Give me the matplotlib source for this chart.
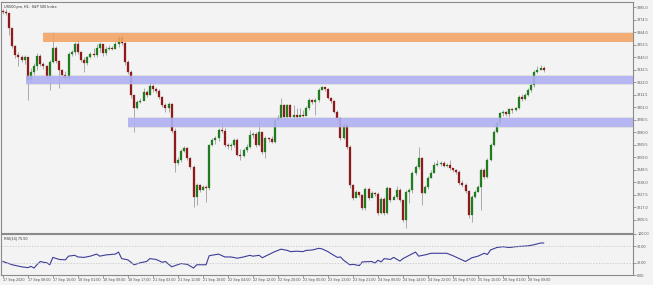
import matplotlib
matplotlib.use('Agg')
import matplotlib.pyplot as plt
from matplotlib.patches import Rectangle

plt.rcParams['font.family'] = ['Liberation Sans', 'DejaVu Sans']

# US500 H1
first_open = 3381.7
close = [3380.8, 3380.0, 3367.4, 3352.3, 3344.8, 3343.1, 3340.6, 3343.1, 3323.8, 3330.5,
         3335.6, 3343.9, 3337.2, 3335.6, 3327.2, 3338.9, 3350.6, 3339.8, 3332.2, 3328.0,
         3325.5, 3345.6, 3347.3, 3354.0, 3347.3, 3340.6, 3338.1, 3343.1, 3345.6, 3344.8,
         3350.6, 3354.0, 3346.5, 3349.8, 3350.6, 3349.8, 3354.0, 3359.9, 3354.8, 3338.9,
         3330.5, 3311.3, 3300.4, 3305.4, 3306.2, 3313.8, 3311.3, 3318.8, 3316.3, 3314.6,
         3309.6, 3302.9, 3300.4, 3303.7, 3281.1, 3254.3, 3256.8, 3264.3, 3266.8, 3258.5,
         3250.9, 3225.8, 3235.8, 3231.7, 3234.2, 3233.3, 3269.4, 3273.6, 3275.2, 3281.9,
         3281.1, 3269.4, 3268.5, 3269.4, 3273.6, 3261.0, 3260.1, 3265.2, 3267.7, 3277.7,
         3278.6, 3269.4, 3280.3, 3263.5, 3275.2, 3274.4, 3271.9, 3290.3, 3292.0, 3302.9,
         3292.8, 3302.9, 3292.8, 3294.5, 3292.8, 3294.5, 3293.7, 3300.4, 3307.1, 3305.4,
         3307.1, 3315.5, 3318.0, 3316.3, 3308.7, 3306.2, 3297.0, 3292.0, 3275.2, 3286.1,
         3267.7, 3235.8, 3224.9, 3230.0, 3227.5, 3216.6, 3232.5, 3224.9, 3229.1, 3228.3,
         3212.4, 3224.1, 3212.4, 3233.3, 3223.3, 3225.8, 3231.7, 3223.3, 3206.5, 3230.0,
         3231.7, 3245.9, 3250.9, 3258.5, 3229.1, 3234.2, 3241.7, 3245.9, 3252.6, 3253.4,
         3254.3, 3251.8, 3252.6, 3250.1, 3248.4, 3246.7, 3237.5, 3235.8, 3230.8, 3210.7,
         3225.8, 3230.0, 3234.2, 3248.4, 3242.5, 3256.8, 3269.4, 3280.3, 3287.8, 3296.2,
         3297.0, 3295.3, 3299.5, 3298.7, 3300.4, 3309.6, 3307.9, 3311.3, 3315.5, 3319.6,
         3330.5, 3332.2, 3333.9, 3332.2]
high = [3383.3, 3383.3, 3380.0, 3367.4, 3353.2, 3347.3, 3344.8, 3344.8, 3343.1, 3333.9,
        3338.1, 3346.5, 3345.6, 3338.9, 3336.4, 3340.6, 3364.1, 3352.3, 3340.6, 3333.1,
        3331.4, 3347.3, 3349.0, 3355.7, 3357.4, 3348.1, 3343.1, 3343.9, 3347.3, 3350.6,
        3354.0, 3355.7, 3354.0, 3352.3, 3353.2, 3352.3, 3356.5, 3361.5, 3363.2, 3355.7,
        3340.6, 3332.2, 3311.3, 3307.1, 3308.7, 3317.1, 3315.5, 3321.3, 3320.5, 3318.0,
        3316.3, 3310.4, 3304.6, 3305.4, 3304.6, 3283.6, 3259.3, 3266.0, 3268.5, 3267.7,
        3259.3, 3252.6, 3237.5, 3236.7, 3235.8, 3235.8, 3270.2, 3275.2, 3276.9, 3283.6,
        3288.6, 3283.6, 3271.0, 3271.0, 3275.2, 3275.2, 3266.0, 3266.8, 3270.2, 3281.9,
        3280.3, 3280.3, 3290.3, 3277.7, 3276.9, 3276.1, 3276.9, 3292.0, 3294.5, 3308.7,
        3303.7, 3303.7, 3303.7, 3302.9, 3300.4, 3300.4, 3298.7, 3302.0, 3308.7, 3307.9,
        3308.7, 3317.1, 3318.8, 3318.0, 3317.1, 3309.6, 3307.1, 3298.7, 3292.8, 3287.8,
        3287.8, 3269.4, 3236.7, 3231.7, 3229.1, 3228.3, 3234.2, 3234.2, 3230.8, 3230.0,
        3230.0, 3225.8, 3225.8, 3235.0, 3233.3, 3227.5, 3235.0, 3233.3, 3223.3, 3231.7,
        3233.3, 3247.6, 3252.6, 3267.7, 3259.3, 3235.8, 3243.4, 3248.4, 3255.1, 3256.8,
        3256.0, 3256.0, 3254.3, 3256.8, 3250.1, 3249.3, 3248.4, 3240.0, 3237.5, 3231.7,
        3227.5, 3231.7, 3235.8, 3250.1, 3250.1, 3258.5, 3271.0, 3281.9, 3289.5, 3297.0,
        3298.7, 3297.9, 3300.4, 3300.4, 3301.2, 3311.3, 3312.1, 3312.9, 3317.1, 3321.3,
        3332.2, 3335.6, 3336.4, 3335.6]
low = [3379.1, 3378.3, 3361.5, 3350.6, 3342.3, 3335.6, 3338.9, 3337.2, 3307.1, 3322.2,
       3328.0, 3332.2, 3335.6, 3333.1, 3325.5, 3315.5, 3338.1, 3338.1, 3317.1, 3326.3,
       3323.8, 3323.8, 3343.9, 3344.8, 3345.6, 3338.9, 3330.5, 3336.4, 3342.3, 3343.1,
       3343.1, 3347.3, 3343.9, 3344.8, 3349.0, 3349.0, 3349.8, 3351.5, 3353.2, 3336.4,
       3328.9, 3308.7, 3280.3, 3299.5, 3304.6, 3307.1, 3309.6, 3311.3, 3313.8, 3312.9,
       3307.9, 3301.2, 3297.0, 3297.0, 3279.4, 3246.7, 3252.6, 3255.1, 3263.5, 3256.8,
       3249.3, 3217.4, 3219.1, 3230.0, 3231.7, 3221.6, 3231.7, 3268.5, 3270.2, 3272.7,
       3279.4, 3267.7, 3266.0, 3265.2, 3267.7, 3260.1, 3256.8, 3259.3, 3263.5, 3266.8,
       3275.2, 3267.7, 3268.5, 3261.8, 3258.5, 3271.9, 3271.0, 3271.0, 3289.5, 3291.2,
       3291.2, 3292.0, 3292.0, 3292.0, 3291.2, 3292.8, 3292.8, 3294.5, 3298.7, 3303.7,
       3294.5, 3305.4, 3315.5, 3314.6, 3307.9, 3304.6, 3296.2, 3290.3, 3273.6, 3274.4,
       3266.0, 3233.3, 3223.3, 3226.6, 3225.8, 3214.9, 3214.9, 3223.3, 3225.8, 3226.6,
       3210.7, 3211.5, 3210.7, 3211.5, 3221.6, 3224.1, 3224.1, 3221.6, 3204.8, 3199.8,
       3220.8, 3229.1, 3244.2, 3249.3, 3219.1, 3228.3, 3232.5, 3241.7, 3245.9, 3251.8,
       3251.8, 3250.9, 3250.9, 3248.4, 3246.7, 3245.1, 3235.8, 3234.2, 3229.1, 3208.2,
       3204.8, 3224.9, 3230.0, 3214.9, 3240.9, 3241.7, 3256.0, 3268.5, 3279.4, 3287.0,
       3293.7, 3293.7, 3292.8, 3296.2, 3297.9, 3299.5, 3306.2, 3307.1, 3310.4, 3313.8,
       3318.0, 3329.7, 3332.2, 3330.5]
opens = [first_open] + close[:-1]

# zones (debut en index de bougie, bas, haut)
zone_start = [12.8, 7.4, 40.0]
zone_low = [3356.0, 3320.5, 3284.5]
zone_high = [3363.5, 3327.0, 3292.0]
zone_colors = ['#F7A561', '#AFAFF7', '#AFAFF7']

# RSI(14)
rsi_idx = [0, 3, 6, 8, 9, 10, 11, 12, 13, 14, 15, 16, 18, 20, 21, 23, 24, 26, 28, 30,
           31, 33, 36, 37, 38, 40, 42, 44, 46, 47, 49, 51, 52, 54, 57, 59, 61, 62, 65, 66,
           69, 71, 73, 75, 77, 79, 80, 82, 83, 84, 87, 89, 91, 92, 94, 96, 97, 99, 101, 102,
           104, 105, 107, 108, 109, 111, 112, 114, 115, 118, 119, 120, 121, 122, 124, 125, 127, 128, 130, 132,
           133, 135, 137, 139, 142, 144, 146, 148, 150, 152, 154, 155, 156, 158, 160, 162, 164, 168, 170, 172, 173]
rsi_val = [33, 25, 20, 18, 21, 17, 26, 33, 31, 30, 25, 43, 38, 37, 46, 48, 44, 43, 46, 51,
           46, 49, 51, 56, 40, 37, 25, 30, 33, 40, 38, 31, 33, 20, 28, 26, 17, 25, 25, 47,
           51, 44, 44, 41, 44, 48, 46, 48, 42, 46, 57, 63, 60, 57, 58, 57, 60, 61, 65, 64,
           57, 52, 43, 44, 36, 25, 26, 23, 32, 33, 29, 36, 32, 40, 38, 43, 34, 40, 48, 56,
           46, 49, 53, 53, 53, 47, 40, 33, 42, 46, 53, 50, 61, 67, 69, 67, 69, 71, 74, 78, 78]
rsi_levels = [30, 70]

x_labels = ['17 Sep 2020', '17 Sep 08:00', '17 Sep 16:00', '18 Sep 01:00', '18 Sep 09:00',
            '18 Sep 17:00', '21 Sep 03:00', '21 Sep 11:00', '21 Sep 19:00', '22 Sep 04:00',
            '22 Sep 12:00', '22 Sep 20:00', '23 Sep 05:00', '23 Sep 13:00', '23 Sep 21:00',
            '24 Sep 06:00', '24 Sep 14:00', '24 Sep 22:00', '25 Sep 07:00', '25 Sep 15:00',
            '28 Sep 01:00', '28 Sep 09:00']
y_ticks = [3206.5 + 10.5 * k for k in range(18)]

bg = '#F3F3F3'
txt = '#555555'
fs = 2.7

fig = plt.figure(figsize=(6.53, 2.85), dpi=100, facecolor=bg)
ax = fig.add_axes([0.0015, 0.1825, 0.968, 0.8105])
ax_rsi = fig.add_axes([0.0015, 0.035, 0.968, 0.144])

for a in (ax, ax_rsi):
    a.set_facecolor(bg)
    for s in a.spines.values():
        s.set_color('#8A8A8A')
        s.set_linewidth(0.8)
    a.yaxis.tick_right()
    a.tick_params(axis='y', direction='out', length=2, width=0.5, colors='#777777',
                  labelsize=fs, labelcolor=txt, pad=1)
    a.set_xlim(-0.6, 201.6)

# bougies
for i in range(len(close)):
    up = close[i] >= opens[i]
    col = '#1F7D1F' if up else '#8E1B1B'
    ax.vlines(i, low[i], high[i], color='#9E9E9E', linewidth=0.6, zorder=2)
    lo = min(opens[i], close[i])
    h = max(abs(close[i] - opens[i]), 0.3)
    ax.add_patch(Rectangle((i - 0.32, lo), 0.64, h, facecolor=col,
                           edgecolor=col, linewidth=0.2, zorder=3))

# zones
for s, lo, hi, c in zip(zone_start, zone_low, zone_high, zone_colors):
    ax.fill_between([s, 201.6], lo - 0.6, hi + 0.6, color='#BDBDBD', alpha=0.35,
                    linewidth=0, zorder=4)
    ax.fill_between([s, 201.6], lo, hi, color=c, alpha=0.85, linewidth=0, zorder=4)

ax.set_ylim(3195.6, 3389.2)
ax.set_yticks(y_ticks)
ax.set_yticklabels(['%.1f' % v for v in y_ticks])
ax.set_xticks([])
ax.text(0.004, 0.988, 'US500.pro, H1:  S&P 500 Index', transform=ax.transAxes,
        fontsize=fs, color='#333333', va='top', ha='left')

# RSI
ax_rsi.plot(rsi_idx, rsi_val, color='#3D3D99', linewidth=0.8)
for lv in rsi_levels:
    ax_rsi.axhline(lv, color='#C0C0C0', linewidth=0.5, linestyle=(0, (2, 2)))
ax_rsi.set_ylim(0, 100)
ax_rsi.set_yticks([0, 30, 70, 100])
ax_rsi.set_yticklabels(['0.00', '30.00', '70.00', '100.00'])
ax_rsi.set_xticks([8 * k for k in range(len(x_labels))])
ax_rsi.set_xticklabels(x_labels, ha='left')
ax_rsi.tick_params(axis='x', direction='out', length=2, width=0.5, colors='#777777',
                   labelsize=fs, labelcolor=txt, pad=0.5)
ax_rsi.text(0.004, 0.93, 'RSI(14) 75.50', transform=ax_rsi.transAxes,
            fontsize=fs, color='#333333', va='top', ha='left')

fig.savefig('out.png', dpi=100, facecolor=bg)
